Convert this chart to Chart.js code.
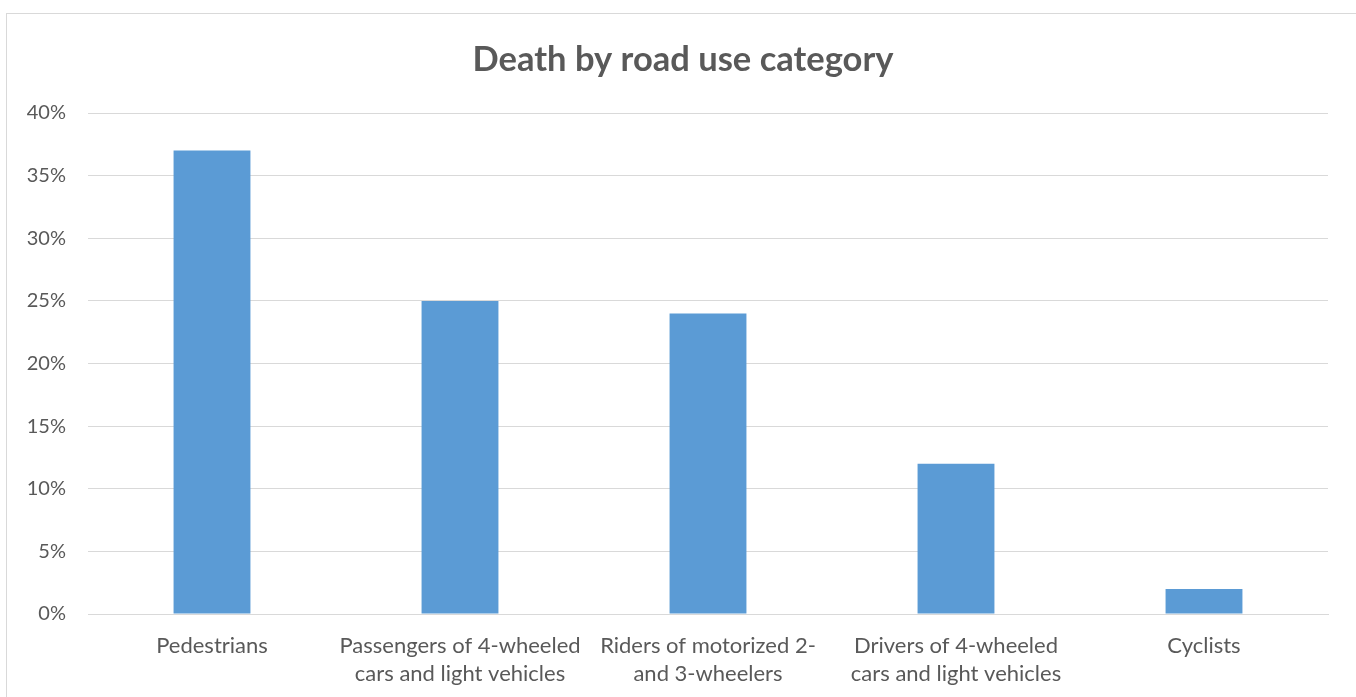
<!DOCTYPE html>
<html>
<head>
<meta charset="utf-8">
<script src="https://cdn.jsdelivr.net/npm/chart.js@4/dist/chart.umd.min.js"></script>
<style>
  html, body { margin: 0; padding: 0; background: #ffffff; overflow: hidden; }
  #wrap { position: relative; width: 1356px; height: 697px; }
  #frame { position: absolute; left: 6px; top: 13px; width: 1400px; height: 800px; border: 1.5px solid #d9d9d9; box-sizing: border-box; }
  canvas { position: absolute; left: 0; top: 0; }
</style>
</head>
<body>
<div id="wrap">
  <div id="frame"></div>
  <canvas id="c" width="1356" height="697"></canvas>
</div>
<script>
const chartTitle = "Death by road use category";
const categories = [
  ["Pedestrians"],
  ["Passengers of 4-wheeled", "cars and light vehicles"],
  ["Riders of motorized 2-", "and 3-wheelers"],
  ["Drivers of 4-wheeled", "cars and light vehicles"],
  ["Cyclists"]
];
const deathShare = [37, 25, 24, 12, 2];
const yMin = 0, yMax = 40, yStep = 5;

const textColor = "#595959";
const gridColor = "#d9d9d9";
const barColor = "#5b9bd5";
const fontFamily = "Lato, 'Open Sans', 'Noto Sans', sans-serif";

const titlePlugin = {
  id: "excelTitle",
  afterDraw(chart) {
    const ctx = chart.ctx;
    ctx.save();
    ctx.font = "bold 34.5px " + fontFamily;
    ctx.fillStyle = textColor;
    ctx.textAlign = "center";
    ctx.textBaseline = "alphabetic";
    ctx.fillText(chartTitle, 683, 71);
    ctx.restore();
  }
};

new Chart(document.getElementById("c"), {
  type: "bar",
  data: {
    labels: categories,
    datasets: [{
      data: deathShare,
      backgroundColor: barColor,
      borderWidth: 0,
      categoryPercentage: 1,
      barPercentage: 0.31
    }]
  },
  options: {
    responsive: false,
    animation: false,
    devicePixelRatio: 1,
    layout: { padding: { left: 0, right: 28, top: 113, bottom: 0 } },
    plugins: {
      legend: { display: false },
      tooltip: { enabled: false },
      title: { display: false }
    },
    scales: {
      x: {
        grid: { display: false, drawTicks: false },
        border: { display: true, color: gridColor, width: 1 },
        ticks: {
          color: textColor,
          font: { family: fontFamily, size: 22, lineHeight: 1.27 },
          padding: 18,
          maxRotation: 0,
          autoSkip: false
        },
        afterFit: (s) => { s.height = 83; }
      },
      y: {
        min: yMin,
        max: yMax,
        grid: { color: gridColor, lineWidth: 1, drawTicks: false },
        border: { display: false },
        ticks: {
          stepSize: yStep,
          color: textColor,
          font: { family: fontFamily, size: 20 },
          padding: 22,
          callback: (v) => v + "%"
        },
        afterFit: (s) => { s.width = 88; }
      }
    }
  },
  plugins: [titlePlugin]
});
</script>
</body>
</html>
